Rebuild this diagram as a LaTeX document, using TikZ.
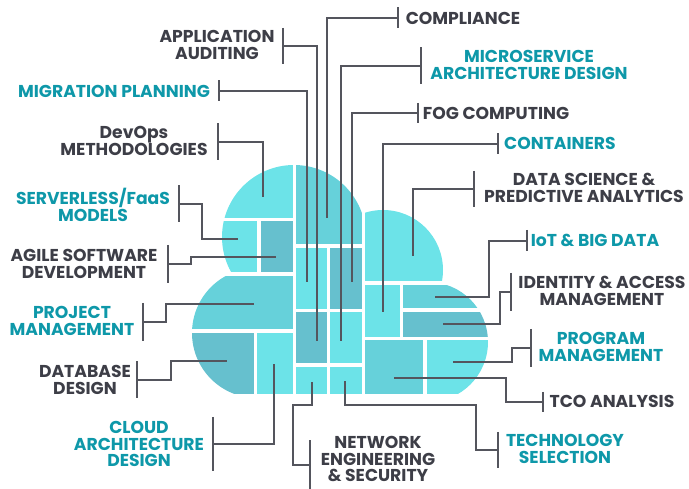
\documentclass[tikz,border=0pt]{standalone}
\usepackage{fontspec}
\setmainfont{Poppins}
\usepackage{tikz}
\definecolor{tilelight}{RGB}{108,227,232}
\definecolor{tilemid}{RGB}{102,209,218}
\definecolor{tiledark}{RGB}{102,192,206}
\definecolor{labeldark}{RGB}{61,62,71}
\definecolor{labelteal}{RGB}{14,152,169}
\definecolor{leadgray}{RGB}{84,85,93}

\tikzset{
  txt/.style={inner sep=0pt, align=center, font=\bfseries\fontsize{17.2}{16.5}\selectfont},
  graytxt/.style={txt, text=labeldark},
  tealtxt/.style={txt, text=labelteal},
  lead/.style={draw=leadgray, line width=1.3pt},
  bracket/.style={draw=leadgray, line width=1.3pt}
}

% the cloud is cut into tiles
\newcommand{\cloudtiles}{%
  \fill[tilelight] (215,150) rectangle (293,218);
  \fill[tilelight] (215,221) rectangle (257.3,272);
  \fill[tiledark] (261,221) rectangle (293,272);
  \fill[tilemid] (185,275.7) rectangle (293,329.3);
  \fill[tiledark] (185,332.7) rectangle (254,394);
  \fill[tilelight] (257.3,332.7) rectangle (293,394);
  \fill[tilemid] (296,150) rectangle (362,244.3);
  \fill[tilelight] (296,247.7) rectangle (326.7,309);
  \fill[tiledark] (330,247.7) rectangle (362,309);
  \fill[tiledark] (296,311.7) rectangle (326.7,363.3);
  \fill[tilelight] (330,311.7) rectangle (362,363.3);
  \fill[tilelight] (296,366.7) rectangle (326.7,394);
  \fill[tilelight] (330,366.7) rectangle (362,394);
  \fill[tilelight] (365,200) rectangle (450,281);
  \fill[tilelight] (365,284.7) rectangle (400,336.7);
  \fill[tilemid] (403.3,284.7) rectangle (495,308);
  \fill[tiledark] (403.3,312) rectangle (495,336.7);
  \fill[tilemid] (365,340) rectangle (423.3,394);
  \fill[tilelight] (426.7,340) rectangle (495,394);
}

\begin{document}
\begin{tikzpicture}[x=1pt, y=-1pt]
\useasboundingbox (0,0) rectangle (689,489);

\begin{scope}
\clip (294,237) circle (72pt) (257,333) circle (65pt)
      (383,270) circle (60pt) (428,342) circle (60pt);
\cloudtiles
\end{scope}
\begin{scope}
\clip (257,244) rectangle (427,394);
\cloudtiles
\end{scope}

% labels on the left
\node[graytxt] (audit) at (217,45) {APPLICATION\\AUDITING};
\node[tealtxt] (migration) at (114,91) {MIGRATION PLANNING};
\node[graytxt] (devops) at (134,141) {DevOps\\METHODOLOGIES};
\node[tealtxt] (serverless) at (93,205) {SERVERLESS/FaaS\\MODELS};
\node[graytxt] (agile) at (84,264) {AGILE SOFTWARE\\DEVELOPMENT};
\node[tealtxt] (project) at (72,321) {PROJECT\\MANAGEMENT};
\node[graytxt] (database) at (85,380) {DATABASE\\DESIGN};
\node[tealtxt] (cloudarch) at (139,444) {CLOUD\\ARCHITECTURE\\DESIGN};
\node[graytxt] (network) at (378,459) {NETWORK\\ENGINEERING\\\& SECURITY};

% labels on the right
\node[graytxt] (compliance) at (463,18) {COMPLIANCE};
\node[tealtxt] (micro) at (529,65) {MICROSERVICE\\ARCHITECTURE DESIGN};
\node[graytxt] (fog) at (496,113) {FOG COMPUTING};
\node[tealtxt] (containers) at (560,143) {CONTAINERS};
\node[graytxt] (datasci) at (584,188) {DATA SCIENCE \&\\PREDICTIVE ANALYTICS};
\node[tealtxt] (iot) at (595,240) {IoT \& BIG DATA};
\node[graytxt] (iam) at (602,291) {IDENTITY \& ACCESS\\MANAGEMENT};
\node[tealtxt] (program) at (601,347) {PROGRAM\\MANAGEMENT};
\node[graytxt] (tco) at (612,401) {TCO ANALYSIS};
\node[tealtxt] (techsel) at (565,449) {TECHNOLOGY\\SELECTION};

% bracket ends and tile ends
\coordinate (audit-b) at (283,46);       \coordinate (audit-t) at (317,341);
\coordinate (migration-b) at (219,91);   \coordinate (migration-t) at (307,282);
\coordinate (devops-b) at (218,142);     \coordinate (devops-t) at (263,197);
\coordinate (serverless-b) at (179,204); \coordinate (serverless-t) at (238,239);
\coordinate (agile-b) at (168,264);      \coordinate (agile-t) at (276,257);
\coordinate (project-b) at (143,322);    \coordinate (project-t) at (254,304);
\coordinate (database-b) at (137,380);   \coordinate (database-t) at (227,361);
\coordinate (cloudarch-b) at (213,444);  \coordinate (cloudarch-t) at (274,364);
\coordinate (network-b) at (310,465);    \coordinate (network-t) at (312,382);
\coordinate (compliance-b) at (398,18);  \coordinate (compliance-t) at (327,218);
\coordinate (micro-b) at (421,66);       \coordinate (micro-t) at (341,341);
\coordinate (fog-b) at (418,113);        \coordinate (fog-t) at (352,282);
\coordinate (containers-b) at (498,144); \coordinate (containers-t) at (383,312);
\coordinate (datasci-b) at (474,189);    \coordinate (datasci-t) at (413,256);
\coordinate (iot-b) at (527,241);        \coordinate (iot-t) at (435,297);
\coordinate (iam-b) at (511,292);        \coordinate (iam-t) at (443,324);
\coordinate (program-b) at (531,348);    \coordinate (program-t) at (453,362);
\coordinate (tco-b) at (543,402);        \coordinate (tco-t) at (394,378);
\coordinate (techsel-b) at (498,450);    \coordinate (techsel-t) at (345,381);

\draw[bracket] (audit-b) ++(0,-18) -- ++(0,36);
\draw[bracket] (migration-b) ++(0,-10.5) -- ++(0,21);
\draw[bracket] (devops-b) ++(0,-18.5) -- ++(0,37);
\draw[bracket] (serverless-b) ++(0,-18.5) -- ++(0,37);
\draw[bracket] (agile-b) ++(0,-19) -- ++(0,38);
\draw[bracket] (project-b) ++(0,-19) -- ++(0,38);
\draw[bracket] (database-b) ++(0,-18.5) -- ++(0,37);
\draw[bracket] (cloudarch-b) ++(0,-27) -- ++(0,54);
\draw[bracket] (network-b) ++(0,-25) -- ++(0,50);
\draw[bracket] (compliance-b) ++(0,-10.5) -- ++(0,21);
\draw[bracket] (micro-b) ++(0,-18.5) -- ++(0,37);
\draw[bracket] (fog-b) ++(0,-10) -- ++(0,20);
\draw[bracket] (containers-b) ++(0,-10.5) -- ++(0,21);
\draw[bracket] (datasci-b) ++(0,-18) -- ++(0,36);
\draw[bracket] (iot-b) ++(0,-11) -- ++(0,21);
\draw[bracket] (iam-b) ++(0,-19) -- ++(0,38);
\draw[bracket] (program-b) ++(0,-19) -- ++(0,38);
\draw[bracket] (tco-b) ++(0,-10) -- ++(0,20);
\draw[bracket] (techsel-b) ++(0,-18) -- ++(0,36);

\draw[lead] (audit-b) -| (audit-t);
\draw[lead] (migration-b) -| (migration-t);
\draw[lead] (devops-b) -| (devops-t);
\draw[lead] (serverless-b) -- ++(23,0) |- (serverless-t);
\draw[lead] (agile-b) -- ++(23,0) |- (agile-t);
\draw[lead] (project-b) -- ++(23,0) |- (project-t);
\draw[lead] (database-b) -- ++(34,0) |- (database-t);
\draw[lead] (cloudarch-b) -| (cloudarch-t);
\draw[lead] (network-b) -- ++(-17,0) -- ++(0,-60) -| (network-t);
\draw[lead] (compliance-b) -| (compliance-t);
\draw[lead] (micro-b) -| (micro-t);
\draw[lead] (fog-b) -| (fog-t);
\draw[lead] (containers-b) -| (containers-t);
\draw[lead] (datasci-b) -| (datasci-t);
\draw[lead] (iot-b) -- ++(-38,0) |- (iot-t);
\draw[lead] (iam-b) -- ++(-11,0) |- (iam-t);
\draw[lead] (program-b) -- ++(-19,0) |- (program-t);
\draw[lead] (tco-b) -- ++(-37,0) |- (tco-t);
\draw[lead] (techsel-b) -- ++(-22,0) -- ++(0,-45) -| (techsel-t);
\end{tikzpicture}
\end{document}
